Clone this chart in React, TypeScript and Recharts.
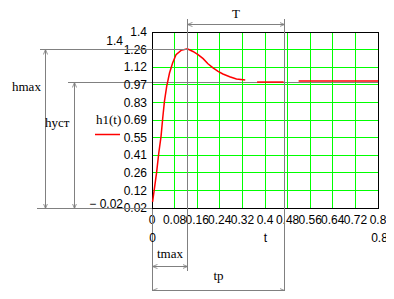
import React from 'react';
import {
  LineChart, Line, XAxis, YAxis, CartesianGrid, ReferenceArea,
} from 'recharts';

// time axis (s) and response h1(t); the trace has two short breaks
const tRise = [
  0.002, 0.008, 0.016, 0.024, 0.032, 0.038, 0.044, 0.052, 0.062, 0.073,
  0.085, 0.103, 0.125, 0.145, 0.163, 0.181, 0.198, 0.216, 0.234, 0.251,
  0.275, 0.299, 0.33,
];
const hRise = [
  0.03, 0.128, 0.262, 0.424, 0.558, 0.706, 0.84, 0.961, 1.069, 1.15,
  1.217, 1.252, 1.265, 1.243, 1.217, 1.185, 1.144, 1.11, 1.082, 1.061,
  1.039, 1.021, 1.013,
];
const tMid = [0.372, 0.466];
const hMid = [0.996, 0.996];
const tTail = [0.519, 0.8];
const hTail = [1.004, 1.004];

const xTicks = [0, 0.08, 0.16, 0.24, 0.32, 0.4, 0.48, 0.56, 0.64, 0.72, 0.8];
const xTickLabels = ['0', '0.08', '0.16', '0.24', '0.32', '0.4', '0.48', '0.56', '0.64', '0.72', '0.8'];
const yTicks = [-0.02, 0.122, 0.264, 0.406, 0.548, 0.69, 0.832, 0.974, 1.116, 1.258, 1.4];
const yTickLabels = ['0.02', '0.12', '0.26', '0.41', '0.55', '0.69', '0.83', '0.97', '1.12', '1.26', '1.4'];

// marked quantities
const T_MAX = 0.125;
const T_P = 0.467;
const H_MAX = 1.263;
const H_YST = 1.0;

const rise = tRise.map((t, i) => ({ t, h: hRise[i] }));
const mid = tMid.map((t, i) => ({ t, h: hMid[i] }));
const tail = tTail.map((t, i) => ({ t, h: hTail[i] }));

const W = 394;
const H = 299;
const LEFT = 152;
const TOP = 32;
const PW = 226;
const PH = 176;
const BOTTOM = TOP + PH;

const xs = (t: number) => Math.round(LEFT + (t / 0.8) * PW) + 0.5;
const ys = (v: number) => Math.round(TOP + ((1.4 - v) / 1.42) * PH) + 0.5;

const SANS = '"Liberation Sans Narrow", "Arial Narrow", "Liberation Sans", Arial, sans-serif';
const SERIF = '"Liberation Serif", "Times New Roman", serif';
const GREY = '#808080';

const svgStyle: React.CSSProperties = { position: 'absolute', left: 0, top: 0, pointerEvents: 'none' };

const ln = (x1: number, y1: number, x2: number, y2: number, arrows?: boolean) => (
  <line
    x1={x1} y1={y1} x2={x2} y2={y2}
    stroke={GREY} strokeWidth={1}
    markerStart={arrows ? 'url(#arr)' : undefined}
    markerEnd={arrows ? 'url(#arr)' : undefined}
  />
);

// drawn under the curve
function BackLines() {
  return (
    <svg width={W} height={H} style={svgStyle}>
      <g shapeRendering="crispEdges">
        {ln(68, ys(H_YST), LEFT + PW, ys(H_YST))}
      </g>
    </svg>
  );
}

function Annotations() {
  const xm = xs(T_MAX);
  const xp = xs(T_P);
  const yMax = ys(H_MAX);
  const yYst = ys(H_YST);
  const yB = BOTTOM + 0.5;
  const x0 = LEFT + 0.5;
  return (
    <svg width={W} height={H} style={svgStyle}>
      <defs>
        <marker id="arr" viewBox="0 0 6 6" refX="6" refY="3" markerWidth="5" markerHeight="5" orient="auto-start-reverse">
          <path d="M0,0.5 L6,3 L0,5.5" fill="none" stroke={GREY} strokeWidth={1} />
        </marker>
      </defs>
      <g shapeRendering="crispEdges">
        {ln(40, yMax, xm, yMax)}
        {ln(37, yB, LEFT, yB)}
        {ln(x0, yB, x0, 294)}
        {ln(xm, 19, xm, 271)}
        {ln(xp, 19, xp, 294)}
      </g>
      {ln(45.5, yMax, 45.5, yB, true)}
      {ln(74.5, yYst, 74.5, yB, true)}
      {ln(xm, 24.5, xp, 24.5, true)}
      {ln(x0, 266.5, xm, 266.5, true)}
      {ln(x0, 290.5, xp, 290.5, true)}

      <g fontFamily={SERIF} fontSize={13} fill="#000">
        <text x={(xm + xp) / 2} y={18} textAnchor="middle">T</text>
        <text x={12} y={91}>hmax</text>
        <text x={45} y={127}>hуст</text>
        <text x={96} y={124}>h1(t)</text>
        <text x={(x0 + xm) / 2} y={258} textAnchor="middle">tmax</text>
        <text x={(x0 + xp) / 2} y={280} textAnchor="middle">tp</text>
      </g>
      <line x1={95} y1={134.5} x2={120} y2={134.5} stroke="#ff0000" strokeWidth={1.5} />

      <g fontFamily={SANS} fontSize={12} fill="#000">
        <text x={123} y={45} textAnchor="end">1.4</text>
        <text x={123} y={208} textAnchor="end">− 0.02</text>
        <text x={xs(0)} y={242} textAnchor="middle">0</text>
        <text x={xs(0.4)} y={242} textAnchor="middle">t</text>
        <text x={xs(0.8) + 1} y={242} textAnchor="middle">0.8</text>
      </g>
    </svg>
  );
}

export default function App() {
  const seg = (d: { t: number; h: number }[], key: string) => (
    <Line
      key={key}
      data={d}
      type="linear"
      dataKey="h"
      stroke="#ff0000"
      strokeWidth={1.5}
      dot={false}
      isAnimationActive={false}
    />
  );
  return (
    <div style={{ position: 'relative', width: W, height: H, margin: -8, background: '#fff' }}>
      <BackLines />
      <div style={{ position: 'absolute', left: 0, top: 0 }}>
        <LineChart
          width={W}
          height={H}
          margin={{ top: TOP, right: W - LEFT - PW, left: LEFT - 40, bottom: H - BOTTOM - 20 }}
        >
          <CartesianGrid stroke="#00ff00" strokeWidth={1} shapeRendering="crispEdges" />
          <XAxis
            dataKey="t"
            type="number"
            domain={[0, 0.8]}
            ticks={xTicks}
            interval={0}
            height={20}
            tickLine={false}
            tickSize={5}
            tickMargin={2}
            axisLine={false}
            allowDuplicatedCategory={false}
            tickFormatter={(v: number) => xTickLabels[xTicks.indexOf(v)] ?? String(v)}
            tick={{ fontFamily: SANS, fontSize: 12, fill: '#000' }}
          />
          <YAxis
            type="number"
            domain={[-0.02, 1.4]}
            ticks={yTicks}
            interval={0}
            width={40}
            tickLine={false}
            tickSize={3}
            tickMargin={2}
            axisLine={false}
            tickFormatter={(v: number) => yTickLabels[yTicks.indexOf(v)] ?? String(v)}
            tick={{ fontFamily: SANS, fontSize: 12, fill: '#000' }}
          />
          <ReferenceArea
            x1={0} x2={0.8} y1={-0.02} y2={1.4}
            fill="none" stroke="#000" strokeWidth={1} fillOpacity={0}
            shapeRendering="crispEdges"
          />
          {seg(rise, 'rise')}
          {seg(mid, 'mid')}
          {seg(tail, 'tail')}
        </LineChart>
      </div>
      <Annotations />
    </div>
  );
}
